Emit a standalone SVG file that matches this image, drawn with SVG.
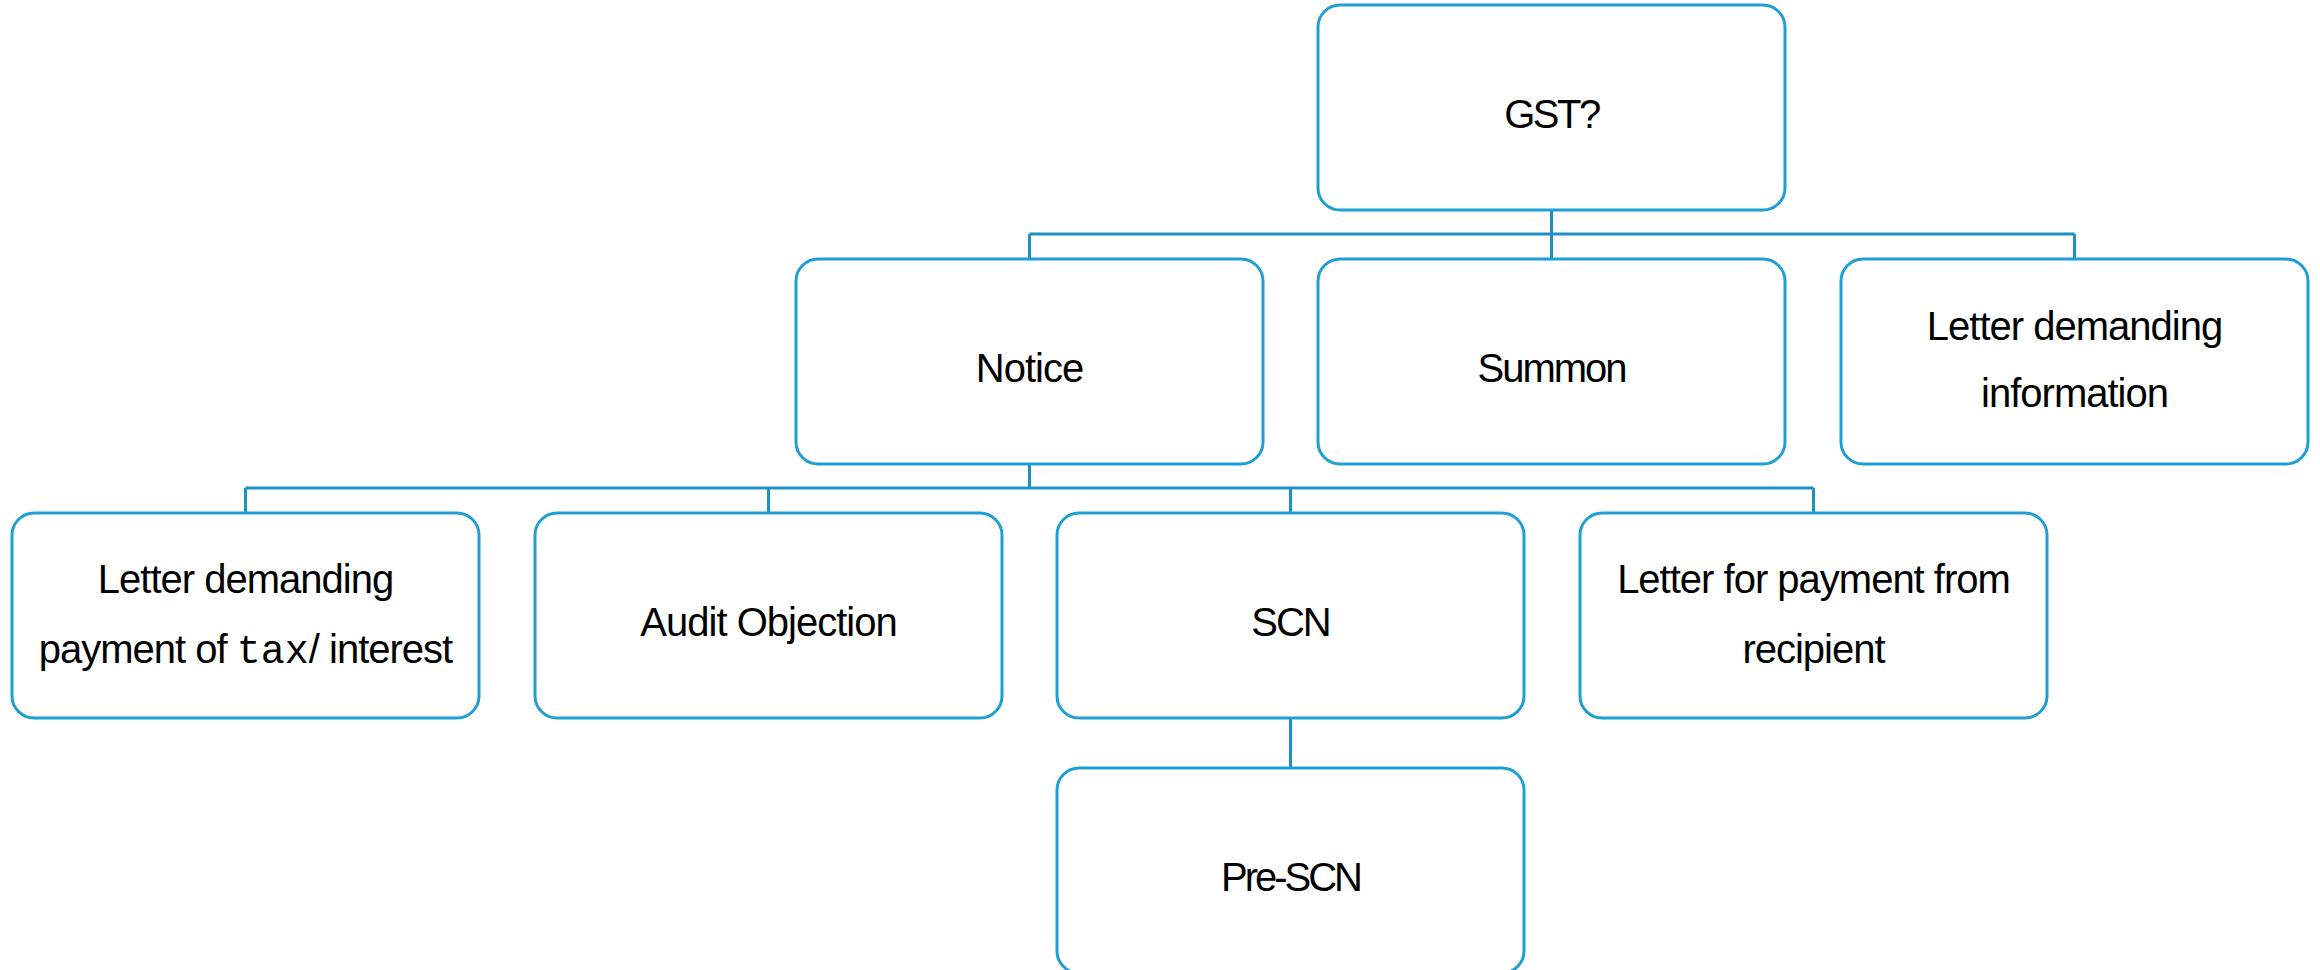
<svg xmlns="http://www.w3.org/2000/svg" width="2320" height="970" viewBox="0 0 2320 970">
  <style>
    .box { fill: #ffffff; stroke: #1f9fd3; stroke-width: 3; }
    .link { fill: none; stroke: #1b91c6; stroke-width: 3; }
    .lbl { font-family: "Liberation Sans", Arial, sans-serif; font-size: 40px; fill: #000000; text-anchor: middle; letter-spacing: -1px; }
    .mono { font-family: "Liberation Mono", "Courier New", monospace; letter-spacing: 0; }
  </style>
  <rect width="2320" height="970" fill="#ffffff"/>

  <!-- connectors -->
  <g id="connectors">
    <path class="link" d="M1551.5 210 V234 M1029.5 234 H2074.5 M1029.5 234 V259 M1551.5 234 V259 M2074.5 234 V259"/>
    <path class="link" d="M1029.5 464 V488 M245.5 488 H1813.5 M245.5 488 V513 M768.5 488 V513 M1290.5 488 V513 M1813.5 488 V513"/>
    <path class="link" d="M1290.5 718 V768"/>
  </g>

  <!-- level 1 -->
  <g id="gst">
    <rect class="box" x="1318" y="5" width="467" height="205" rx="22"/>
    <text class="lbl" x="1551.5" y="128" style="letter-spacing:-2.5px">GST?</text>
  </g>

  <!-- level 2 -->
  <g id="notice">
    <rect class="box" x="796" y="259" width="467" height="205" rx="22"/>
    <text class="lbl" x="1029.5" y="382">Notice</text>
  </g>
  <g id="summon">
    <rect class="box" x="1318" y="259" width="467" height="205" rx="22"/>
    <text class="lbl" x="1551.5" y="382" style="letter-spacing:-2px">Summon</text>
  </g>
  <g id="letter-info">
    <rect class="box" x="1841" y="259" width="467" height="205" rx="22"/>
    <text class="lbl" x="2074.5" y="340">Letter demanding</text>
    <text class="lbl" x="2074.5" y="407">information</text>
  </g>

  <!-- level 3 -->
  <g id="letter-tax">
    <rect class="box" x="12" y="513" width="467" height="205" rx="22"/>
    <text class="lbl" x="245.5" y="593">Letter demanding</text>
    <text class="lbl" x="245.5" y="663">payment of <tspan class="mono">tax</tspan>/ interest</text>
  </g>
  <g id="audit">
    <rect class="box" x="535" y="513" width="467" height="205" rx="22"/>
    <text class="lbl" x="768.5" y="636">Audit Objection</text>
  </g>
  <g id="scn">
    <rect class="box" x="1057" y="513" width="467" height="205" rx="22"/>
    <text class="lbl" x="1290.5" y="636" style="letter-spacing:-2px">SCN</text>
  </g>
  <g id="letter-payment">
    <rect class="box" x="1580" y="513" width="467" height="205" rx="22"/>
    <text class="lbl" x="1813.5" y="593">Letter for payment from</text>
    <text class="lbl" x="1813.5" y="663">recipient</text>
  </g>

  <!-- level 4 -->
  <g id="pre-scn">
    <rect class="box" x="1057" y="768" width="467" height="205" rx="22"/>
    <text class="lbl" x="1290.5" y="891" style="letter-spacing:-3px">Pre-SCN</text>
  </g>
</svg>
